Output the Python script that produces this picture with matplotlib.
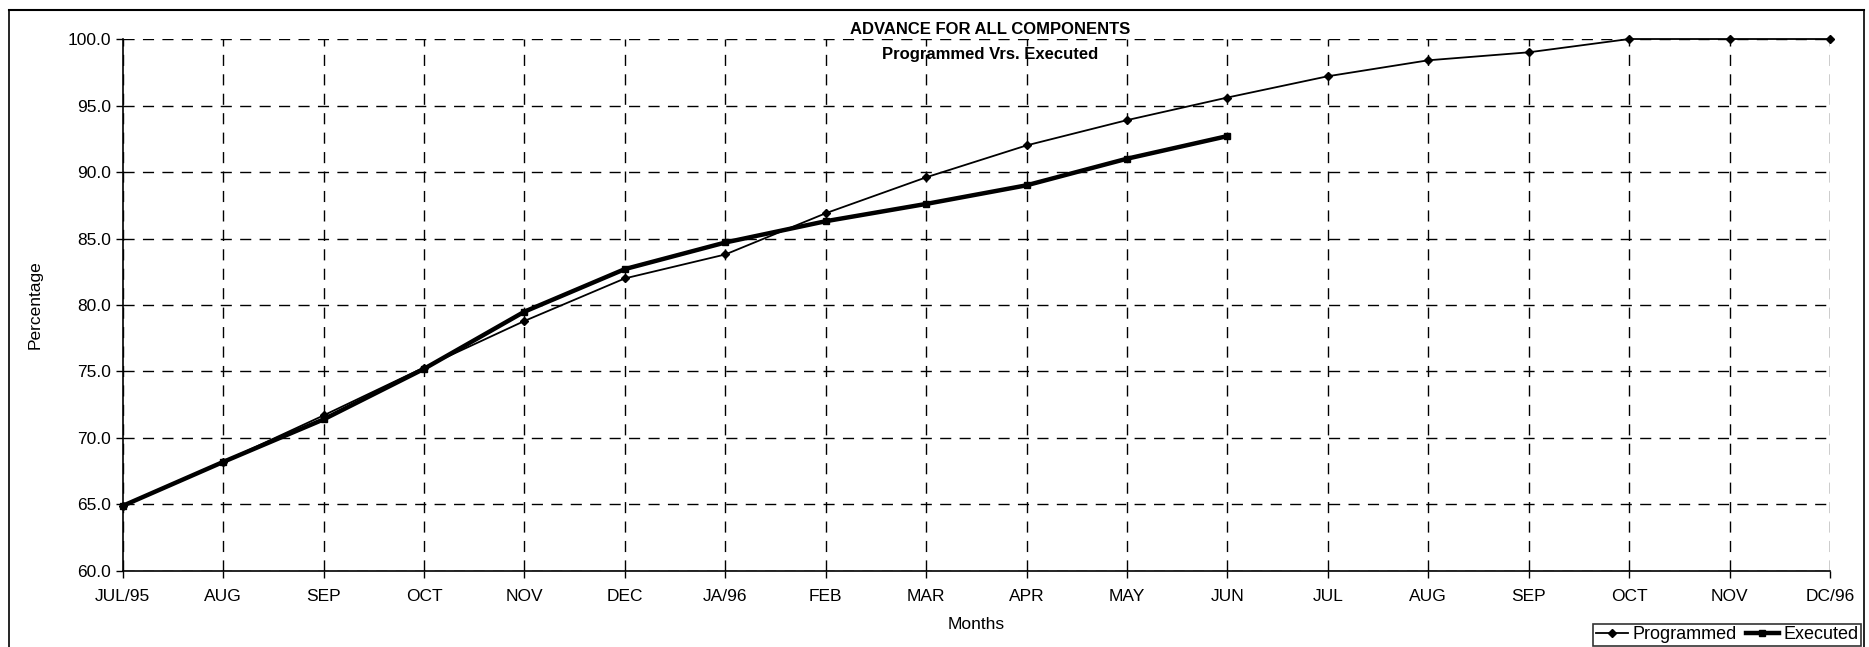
import matplotlib
matplotlib.use("Agg")
import matplotlib.pyplot as plt
from matplotlib.lines import Line2D

plt.rcParams['font.family'] = ['Liberation Sans', 'DejaVu Sans']

months = ["JUL/95", "AUG", "SEP", "OCT", "NOV", "DEC", "JA/96", "FEB", "MAR",
          "APR", "MAY", "JUN", "JUL", "AUG", "SEP", "OCT", "NOV", "DC/96"]
programmed = [64.9, 68.2, 71.7, 75.3, 78.8, 82.0, 83.8, 86.9, 89.6,
              92.0, 93.9, 95.6, 97.2, 98.4, 99.0, 100.0, 100.0, 100.0]
executed = [64.9, 68.2, 71.4, 75.2, 79.5, 82.7, 84.7, 86.3, 87.6,
            89.0, 91.0, 92.7]
yticks = [60.0, 65.0, 70.0, 75.0, 80.0, 85.0, 90.0, 95.0, 100.0]

fig = plt.figure(figsize=(18.69, 6.47), dpi=100)
ax = fig.add_axes([0.0657, 0.1175, 0.9134, 0.8222])

x_prog = list(range(len(programmed)))
x_exec = list(range(len(executed)))
ax.plot(x_prog, programmed, color='black', lw=1.3, marker='D', ms=4.5,
        label='Programmed', zorder=3, clip_on=False)
ax.plot(x_exec, executed, color='black', lw=3.2, marker='s', ms=5,
        label='Executed', zorder=4, clip_on=False)

ax.set_xlim(0, len(months) - 1)
ax.set_ylim(60, 100)
ax.set_xticks(range(len(months)))
ax.set_xticklabels(months)
ax.set_yticks(yticks)
ax.set_yticklabels([f"{v:.1f}" for v in yticks])
ax.tick_params(axis='both', labelsize=12.5, direction='out', length=5, width=1, colors='black')
ax.tick_params(axis='x', pad=8)
ax.grid(True, color='black', linestyle=(0, (8, 6)), linewidth=1)
for s in ['top', 'right']:
    ax.spines[s].set_visible(False)
for s in ['left', 'bottom']:
    ax.spines[s].set_color('black')
    ax.spines[s].set_linewidth(1.2)

ax.set_xlabel("Months", fontsize=12.5, labelpad=9)
ax.set_ylabel("Percentage", fontsize=12.5, labelpad=18)

fig.text(990 / 1869, 1 - 29 / 647, "ADVANCE FOR ALL COMPONENTS", ha='center', va='center',
         fontsize=12, fontweight='bold')
fig.text(990 / 1869, 1 - 54 / 647, "Programmed Vrs. Executed", ha='center', va='center',
         fontsize=12, fontweight='bold')

leg = ax.legend(loc='lower right', bbox_to_anchor=(1861 / 1869, 1 / 647),
                bbox_transform=fig.transFigure, ncol=2, frameon=True, fancybox=False,
                fontsize=13, handlelength=1.8, handletextpad=0.25, columnspacing=0.5,
                borderpad=0.15, borderaxespad=0, markerscale=0.9)
leg.get_frame().set_edgecolor('black')
leg.get_frame().set_linewidth(1.2)

# outer figure border (left, top, right)
bx0, bx1 = 9 / 1869, 1864 / 1869
by1 = 1 - 10 / 647
fig.add_artist(Line2D([bx0, bx0], [0, by1], transform=fig.transFigure, color='black', lw=1.2))
fig.add_artist(Line2D([bx0, bx1], [by1, by1], transform=fig.transFigure, color='black', lw=1.5))
fig.add_artist(Line2D([bx1, bx1], [0, by1], transform=fig.transFigure, color='black', lw=1.2))

fig.savefig("out.png", dpi=100, facecolor='white')
